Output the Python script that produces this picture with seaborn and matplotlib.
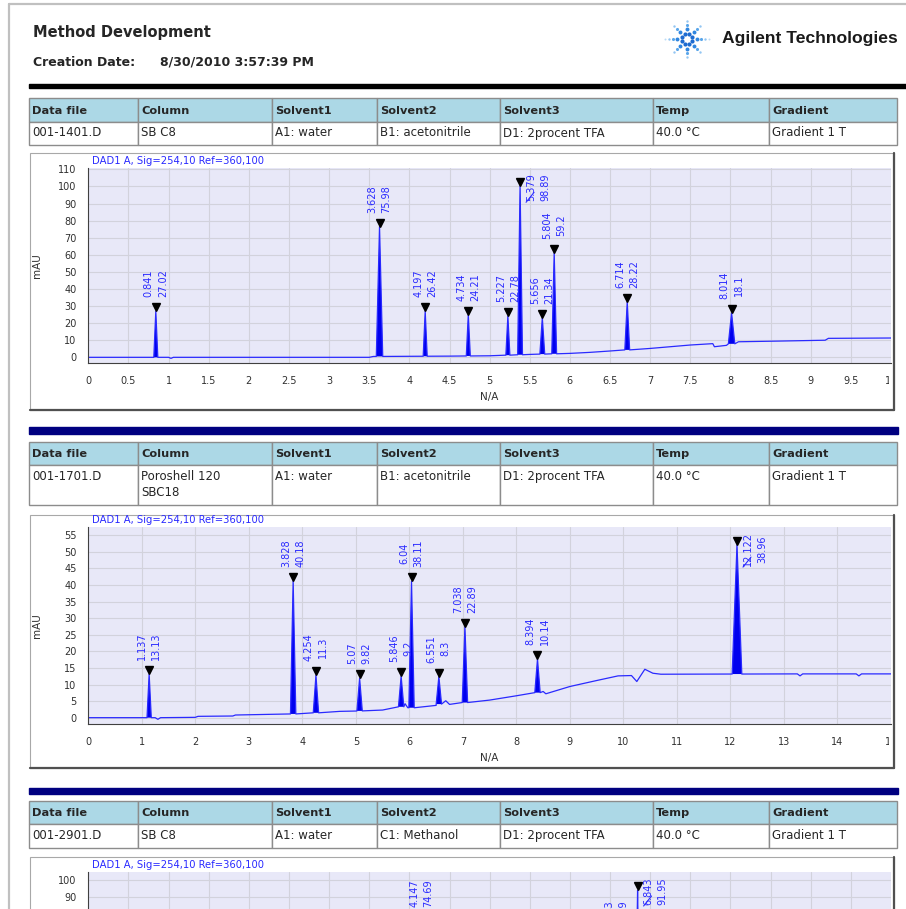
import numpy as np
import pandas as pd
import matplotlib
matplotlib.use("Agg")
import matplotlib.pyplot as plt
import seaborn as sns
from matplotlib.patches import Rectangle
from matplotlib.ticker import FuncFormatter
from matplotlib.transforms import offset_copy, blended_transform_factory, Bbox, TransformedBbox

W, H = 906, 909

# ---- report text ----
title = "Method Development"
created_label = "Creation Date:"
created_value = "8/30/2010 3:57:39 PM"
company = "Agilent Technologies"
signal_name = "DAD1 A, Sig=254,10 Ref=360,100"

header_cols = ["Data file", "Column", "Solvent1", "Solvent2", "Solvent3", "Temp", "Gradient"]
run1_info = ["001-1401.D", "SB C8", "A1: water", "B1: acetonitrile", "D1: 2procent TFA", "40.0 °C", "Gradient 1 T"]
run2_info = ["001-1701.D", "Poroshell 120\nSBC18", "A1: water", "B1: acetonitrile", "D1: 2procent TFA", "40.0 °C", "Gradient 1 T"]
run3_info = ["001-2901.D", "SB C8", "A1: water", "C1: Methanol", "D1: 2procent TFA", "40.0 °C", "Gradient 1 T"]

# ---- run 1 (001-1401.D) ----
run1_rt = [0.841, 3.628, 4.197, 4.734, 5.227, 5.379, 5.656, 5.804, 6.714, 8.014]
run1_height = [27.02, 75.98, 26.42, 24.21, 22.78, 98.89, 21.34, 59.2, 28.22, 18.1]
run1_width = [0.025, 0.04, 0.025, 0.025, 0.025, 0.03, 0.03, 0.03, 0.03, 0.04]
run1_base_t = [0, 1.0, 1.03, 1.06, 3.5, 3.55, 4.5, 5.0, 5.5, 6.0, 6.25, 6.5, 7.0, 7.5, 7.78, 7.8, 7.95, 8.1, 8.6, 9.18, 9.22, 10]
run1_base_y = [0, 0, -0.6, 0, 0.0, 0.5, 0.7, 0.9, 1.7, 2.3, 2.9, 3.7, 5.2, 7.2, 8.0, 6.2, 7.0, 9.1, 9.5, 10.0, 11.1, 11.3]

# ---- run 2 (001-1701.D) ----
run2_rt = [1.137, 3.828, 4.254, 5.07, 5.846, 6.04, 6.551, 7.038, 8.394, 12.122]
run2_height = [13.13, 40.18, 11.3, 9.82, 9.2, 38.11, 8.3, 22.89, 10.14, 38.96]
run2_width = [0.04, 0.05, 0.05, 0.05, 0.05, 0.05, 0.05, 0.05, 0.05, 0.09]
run2_base_t = [0, 1.25, 1.3, 1.35, 2.0, 2.05, 2.7, 2.75, 3.8, 4.3, 4.7, 5.0, 5.5, 5.8, 5.92, 5.97, 6.1, 6.5,
               6.68, 6.75, 7.0, 7.5, 8.0, 8.35, 8.5, 8.55, 9.0, 9.5, 9.9, 10.15, 10.25, 10.4, 10.55, 10.7,
               13.25, 13.3, 13.35, 14.35, 14.4, 14.45, 15]
run2_base_y = [0, 0, -0.5, 0, 0.1, 0.4, 0.5, 0.8, 1.1, 1.5, 1.9, 2.0, 2.3, 2.7, 4.2, 3.0, 3.0, 3.7,
               5.1, 4.0, 4.5, 5.3, 6.6, 7.4, 7.9, 7.2, 9.4, 11.2, 12.6, 12.7, 10.9, 14.6, 13.4, 13.1,
               13.2, 12.6, 13.2, 13.2, 12.6, 13.2, 13.2]

# ---- run 3 (001-2901.D), only the top is on the page ----
run3_rt = [4.147, 6.583, 6.843]
run3_height = [74.69, 61.79, 91.95]
run3_width = [0.03, 0.03, 0.03]
run3_base_t = [0, 10]
run3_base_y = [0.0, 3.0]

BLUE = "#2a2aff"
sns.set_style("white")
plt.rcParams["font.family"] = ["DejaVu Sans"]

fig = plt.figure(figsize=(W / 100, H / 100), dpi=100)


def frac(x, y, w, h):
    return [x / W, 1 - (y + h) / H, w / W, h / H]


# page layer in pixel units
bg = fig.add_axes([0, 0, 1, 1])
bg.set_xlim(0, W)
bg.set_ylim(H, 0)
bg.axis("off")
bg.set_zorder(0)

bg.plot([9, 9], [4, H], color="#c0c0c0", lw=1.6)
bg.plot([9, W], [4, 4], color="#c0c0c0", lw=1.6)

bg.text(33, 32, title, fontsize=10.5, weight="bold", va="center")
bg.text(33, 62, created_label, fontsize=9, weight="bold", va="center")
bg.text(160, 62, created_value, fontsize=9, weight="bold", va="center")
bg.text(722, 38, company, family=["Liberation Sans", "DejaVu Sans"], fontsize=12.6,
        weight="bold", va="center", color="#1a1a1a")

# spark logo
cx, cy = 687, 39
for k in range(8):
    a = np.deg2rad(k * 45 + 22.5)
    bg.scatter(cx + 5.5 * np.cos(a), cy + 5.5 * np.sin(a), s=9, color="#1d6bd0", lw=0)
for k in range(8):
    a = np.deg2rad(k * 45)
    radii = [10, 14, 18] + ([22] if k % 4 == 0 else [])
    for j, r in enumerate(radii):
        bg.scatter(cx + r * np.cos(a), cy + r * np.sin(a), s=[8, 5, 3, 2][j],
                   color=["#2f86e0", "#5aa6ea", "#93c6f2", "#bcdcf6"][j], lw=0)

bg.add_patch(Rectangle((29, 84), W - 29, 4, color="black"))

col_x = [29, 138, 272, 377, 500, 653, 769, 897]


def draw_table(y0, hh, dh, values):
    for i in range(len(header_cols)):
        x0, x1 = col_x[i], col_x[i + 1]
        bg.add_patch(Rectangle((x0, y0), x1 - x0, hh, facecolor="#acd8e6", edgecolor="#8c8c8c", lw=1.0))
        bg.add_patch(Rectangle((x0, y0 + hh), x1 - x0, dh, facecolor="white", edgecolor="#8c8c8c", lw=1.0))
        bg.text(x0 + 3, y0 + hh / 2 + 1, header_cols[i], fontsize=8.2, weight="bold", va="center")
        bg.text(x0 + 3, y0 + hh + 5, values[i], fontsize=8.5, va="top", linespacing=1.25)


def draw_frame(y0, y1):
    bg.add_patch(Rectangle((30, y0), 864, y1 - y0, facecolor="white", edgecolor="#a8a8a8", lw=0.8))
    bg.plot([894, 894], [y0, y1], color="#505050", lw=1.6)
    bg.plot([30, 894], [y1, y1], color="#505050", lw=1.6)


draw_table(98, 23.5, 23.5, run1_info)
draw_frame(153, 410)
bg.add_patch(Rectangle((29, 427), 869, 7, color="#000080"))
draw_table(441.5, 23.5, 40, run2_info)
draw_frame(515, 768)
bg.add_patch(Rectangle((29, 788), 869, 6, color="#000080"))
draw_table(800.5, 23.5, 24, run3_info)
draw_frame(857, 1115)


def build_trace(base_t, base_y, rt, height, width):
    t = list(base_t)
    y = list(base_y)
    keep = np.ones(len(t), bool)
    for r, w in zip(rt, width):
        keep &= ~((np.array(t) > r - w) & (np.array(t) < r + w))
    t = [v for v, k in zip(t, keep) if k]
    y = [v for v, k in zip(y, keep) if k]
    for r, h, w in zip(rt, height, width):
        b = np.interp(r, base_t, base_y)
        t += [r - w, r, r + w]
        y += [b, b + h, b]
    return pd.DataFrame({"t": t, "y": y}).sort_values("t")


def chromatogram(box, xmax, xstep, ylim, ystep, yticktop, rt, height, width, base_t, base_y):
    x, y, w, h = box
    ax = fig.add_axes(frac(x, y, w, h))
    ax.set_zorder(1)
    ax.set_facecolor("#e8e8f8")
    df = build_trace(base_t, base_y, rt, height, width)
    sns.lineplot(data=df, x="t", y="y", ax=ax, color=BLUE, lw=0.9, sort=False, estimator=None)
    for r, hh, ww in zip(rt, height, width):
        b = np.interp(r, base_t, base_y)
        ax.fill([r - ww, r, r + ww], [b, b + hh, b], color="#0000ee", lw=0)

    ax.set_xlim(0, xmax)
    ax.set_ylim(*ylim)
    ax.set_xticks(np.arange(0, xmax + xstep / 2, xstep))
    ax.set_yticks(np.arange(0, yticktop + ystep / 2, ystep))
    ax.xaxis.set_major_formatter(FuncFormatter(lambda v, p: f"{v:g}"))
    ax.yaxis.set_major_formatter(FuncFormatter(lambda v, p: f"{v:g}"))
    ax.grid(True, color="#d2d2dc", lw=0.8)
    ax.set_axisbelow(True)
    for s in ["top", "right"]:
        ax.spines[s].set_visible(False)
    for s in ["left", "bottom"]:
        ax.spines[s].set_color("#404040")
        ax.spines[s].set_linewidth(0.8)
    ax.tick_params(axis="both", direction="out", length=5.8, width=0.8, color="#404040",
                   labelsize=7, labelcolor="#303030")
    ax.tick_params(axis="x", pad=3.6)
    ax.tick_params(axis="y", pad=2.6)
    ylo, yhi = ylim
    ppu = h / (yhi - ylo)
    on_page = y + h + 40 < H
    if on_page:
        ax.set_xlabel("N/A", fontsize=7.5, color="#303030")
        ax.set_ylabel("mAU", fontsize=7.5, color="#303030")
        ax.xaxis.set_label_coords(0.5, -29 / h)
        ax.yaxis.set_label_coords(-46 / w, 0.5)
    else:
        # the rest of this chart runs past the bottom of the page
        ax.set_xlabel("")
        ax.set_ylabel("")
        ax.tick_params(axis="x", labelbottom=False)
        for tk, v in zip(ax.yaxis.get_major_ticks(), ax.get_yticks()):
            if y + (yhi - v) * ppu + 5 > H:
                tk.label1.set_visible(False)
    ax.text(4 / w, 1 + 2 / h, signal_name, transform=ax.transAxes, fontsize=7.2,
            color=BLUE, ha="left", va="bottom")

    clip = TransformedBbox(Bbox([[-0.2, -1.0], [1 - 2 / w, 1.0]]), ax.transAxes)
    for tk in ax.xaxis.get_major_ticks():
        tk.label1.set_clip_on(True)
        tk.label1.set_clip_box(clip)

    # peak marks and labels
    top_tr = blended_transform_factory(ax.transData, ax.transAxes)
    for r, hh in zip(rt, height):
        b = np.interp(r, base_t, base_y)
        apex = b + hh
        ax.plot([r], [apex], marker="v", color="black", ms=5.5, ls="none",
                transform=offset_copy(ax.transData, fig=fig, x=0, y=4, units="dots"), clip_on=False)
        s1, s2 = f"{r:g}", f"{hh:g}"
        label = s1 + "\n" + s2
        L = max(len(s1), len(s2)) * 5.8
        room = (yhi - apex) * ppu
        if room > 4 + 10 + L + 3:
            ax.text(r, apex, label, rotation=90, ha="center", va="bottom", fontsize=7,
                    color=BLUE, linespacing=1.5,
                    transform=offset_copy(ax.transData, fig=fig, x=0, y=14, units="dots"))
        else:
            ax.text(r, 1, label, rotation=90, ha="center", va="top", fontsize=7,
                    color=BLUE, linespacing=1.5,
                    transform=offset_copy(top_tr, fig=fig, x=18, y=-5, units="dots"))
            ax.annotate("", xy=(r, 1),
                        xycoords=offset_copy(top_tr, fig=fig, x=6, y=-(5 + L), units="dots"),
                        xytext=(8, 10), textcoords="offset pixels",
                        arrowprops=dict(arrowstyle="-", color=BLUE, lw=0.8, shrinkA=0, shrinkB=0))
    return ax


chromatogram((88.3, 168.3, 802.7, 195), 10, 0.5, (-3.5, 110.6), 10, 110,
             run1_rt, run1_height, run1_width, run1_base_t, run1_base_y)
chromatogram((88.3, 527.3, 802.7, 197), 15, 1, (-2.0, 57.4), 5, 55,
             run2_rt, run2_height, run2_width, run2_base_t, run2_base_y)
chromatogram((88.3, 872, 802.7, 185), 10, 0.5, (-3.5, 104.7), 10, 100,
             run3_rt, run3_height, run3_width, run3_base_t, run3_base_y)

fig.savefig("out.png", dpi=100)
